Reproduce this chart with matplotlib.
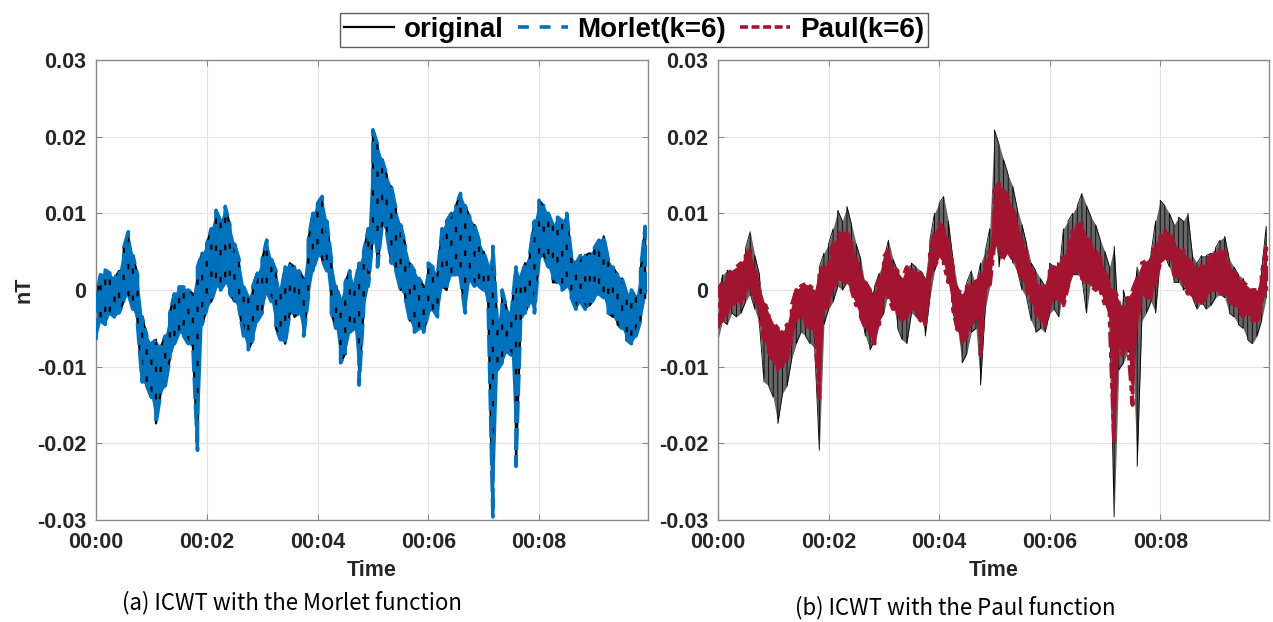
"""Reconstructed geomagnetic signal vs. ICWT reconstructions (Morlet / Paul)."""
import numpy as np
import matplotlib

matplotlib.use("Agg")
import matplotlib.pyplot as plt
from matplotlib.ticker import FuncFormatter

# sample times in seconds (every 5 s over ~10 minutes)
t_sec = np.arange(0, 600, 5)

# upper / lower envelope of the original signal, in 1e-3 nT
orig_hi = [
    -1.0, 2.0, 2.6, 2.2, 1.5, 2.5, 5.5, 7.6, 4.5, 2.0,
    -3.5, -6.0, -7.0, -6.5, -7.5, -6.0, -3.0, -0.5, 0.4, 0.4,
    0.0, -0.5, 3.0, 4.8, 6.0, 8.0, 10.4, 9.0, 10.9, 8.5,
    6.0, 4.0, 0.4, -1.0, 0.5, 2.2, 4.0, 6.5, 4.0, 2.5,
    -0.5, 3.0, 3.5, 3.0, 2.5, 1.5, 6.5, 10.0, 11.3, 12.2,
    9.0, 4.0, 0.5, -1.3, 1.0, 2.5, 0.5, 3.5, 5.0, 8.0,
    20.9, 19.0, 17.0, 15.0, 13.5, 10.5, 8.5, 6.0, 3.5, 2.5,
    1.5, 0.5, 3.5, 3.0, 2.0, 8.0, 9.0, 10.0, 11.0, 12.6,
    11.0, 9.5, 8.5, 6.5, 5.0, 3.0, 5.7, -4.8, 0.0, -2.5,
    -3.0, 3.0, 1.5, 3.5, 4.8, 9.0, 11.7, 11.0, 10.0, 8.5,
    9.5, 9.0, 10.0, 4.5, 3.5, 4.5, 4.5, 4.8, 5.5, 6.5,
    7.0, 4.0, 3.0, 2.0, 1.5, -0.5, 0.0, -1.0, 2.5, 8.3,
]
orig_lo = [
    -6.5, -4.0, -4.5, -3.0, -3.5, -3.0, -1.5, -0.5, -2.5, -4.5,
    -12.0, -12.5, -14.0, -17.4, -13.5, -12.5, -9.0, -7.0, -5.5, -6.0,
    -7.0, -7.5, -20.9, -4.5, -2.5, -1.5, 0.5, 0.0, 1.0, -0.5,
    -1.5, -2.5, -6.0, -7.8, -6.5, -4.0, -3.0, -0.2, -1.5, -5.0,
    -6.5, -7.0, -3.0, -3.5, -3.0, -6.0, -1.0, 2.5, 4.5, 4.0,
    2.5, -3.0, -5.0, -9.5, -8.3, -5.5, -5.0, -12.4, -2.5, 0.5,
    7.0, 3.0, 8.5, 7.5, 3.5, 2.5, 0.0, -1.0, -4.0, -5.5,
    -5.0, -5.5, -3.0, -2.5, -3.5, 0.5, 0.0, 2.0, 2.0, 1.5,
    -3.0, 1.5, 0.5, 0.5, 0.0, -2.5, -29.6, -10.4, -9.5, -8.0,
    -8.5, -23.0, -4.0, -3.0, -1.5, -3.0, 4.0, 4.5, 3.0, 1.0,
    1.0, 0.0, 0.5, -1.0, -2.5, -1.5, -2.5, -2.0, -1.0, -0.5,
    -1.0, -3.0, -3.5, -4.5, -5.0, -6.5, -7.0, -6.0, -4.0, -1.0,
]

# Morlet reconstruction overlaps the original at this resolution
morlet_hi = list(orig_hi)
morlet_lo = list(orig_lo)

# Paul reconstruction (attenuated), in 1e-3 nT
paul_hi = [
    0.0, 1.0, 1.7, 2.6, 3.0, 3.5, 4.5, 5.2, 2.5, 0.5,
    -1.5, -3.0, -4.3, -5.0, -5.5, -4.5, -2.0, 0.0, 0.5, 0.8,
    0.5, 0.0, 2.6, 3.0, 3.5, 6.0, 7.0, 7.8, 7.4, 6.5,
    4.0, 2.5, 1.0, 0.0, -0.5, 1.5, 4.3, 5.2, 3.0, 2.5,
    1.5, 3.0, 2.6, 2.5, 2.2, 1.5, 5.0, 7.5, 8.7, 8.0,
    6.5, 3.0, 0.0, -0.5, 0.5, 1.0, 1.5, 2.0, 3.5, 5.2,
    13.0, 13.9, 13.0, 12.2, 10.5, 8.7, 6.5, 5.0, 3.0, 1.0,
    0.5, 0.8, 2.5, 3.0, 3.5, 4.3, 6.0, 7.8, 8.5, 8.7,
    7.0, 6.0, 5.0, 4.3, 2.5, 0.5, 0.0, -1.3, -2.5, -1.0,
    0.0, 1.5, 3.5, 3.8, 4.3, 6.0, 7.0, 7.8, 7.5, 6.1,
    5.5, 5.2, 4.0, 3.5, 3.0, 3.2, 3.5, 4.8, 5.0, 5.2,
    5.0, 3.0, 2.5, 1.7, 1.0, 0.5, 0.0, 0.0, 2.0, 5.5,
]
paul_lo = [
    -5.0, -4.0, -3.0, -2.0, -1.5, -1.8, -0.5, 0.5, -1.5, -3.5,
    -6.5, -8.0, -9.5, -10.4, -10.0, -9.0, -6.5, -4.0, -3.5, -4.5,
    -5.0, -5.5, -14.1, -2.5, -2.0, 0.0, 1.5, 1.0, 1.0, 0.0,
    -2.0, -3.5, -5.0, -6.0, -7.0, -4.5, -0.5, -1.0, -2.5, -3.0,
    -4.0, -3.5, -2.5, -3.0, -4.0, -4.5, 1.0, 3.0, 4.3, 3.5,
    1.0, -2.5, -5.2, -7.0, -6.0, -4.5, -3.5, -8.5, 0.0, 0.5,
    6.0, 5.2, 3.9, 5.0, 4.0, 3.0, 1.5, 0.0, -1.5, -3.0,
    -4.0, -4.8, -2.5, -1.0, -1.5, -2.0, 0.5, 2.0, 2.5, 1.5,
    1.0, 0.5, 0.0, 0.0, -2.0, -3.5, -20.0, -7.4, -8.7, -7.0,
    -15.0, -4.0, -0.5, -1.0, -1.0, 1.0, 3.5, 4.0, 4.3, 2.0,
    1.5, 1.0, -0.5, -1.0, -1.5, -1.7, -1.0, 0.0, 0.0, -0.5,
    -0.5, -1.5, -2.0, -2.5, -3.5, -3.0, -4.0, -4.3, -2.0, 0.0,
]

y_ticks = [-0.03, -0.02, -0.01, 0, 0.01, 0.02, 0.03]
y_labels = ["-0.03", "-0.02", "-0.01", "0", "0.01", "0.02", "0.03"]
x_ticks = [0, 120, 240, 360, 480]

BLUE = "#0072BD"
RED = "#A2142F"

plt.rcParams["font.family"] = ["Liberation Sans", "DejaVu Sans"]


def band_path(t, hi, lo):
    # vertical strokes between the envelopes, alternating direction
    hi = np.asarray(hi) * 1e-3
    lo = np.asarray(lo) * 1e-3
    x = np.repeat(t, 2)
    pairs = np.column_stack([lo, hi])
    pairs[1::2] = pairs[1::2, ::-1]
    return x, pairs.ravel()


def band_fill(ax, t, hi, lo, **kw):
    ax.fill_between(t, np.asarray(lo) * 1e-3, np.asarray(hi) * 1e-3, lw=0, **kw)


def style_axes(ax):
    ax.set_xlim(0, 598)
    ax.set_ylim(-0.03, 0.03)
    ax.set_yticks(y_ticks)
    ax.set_yticklabels(y_labels)
    ax.set_xticks(x_ticks)
    # hh:mm labels
    ax.xaxis.set_major_formatter(
        FuncFormatter(lambda v, _: f"{int(v // 3600):02d}:{int(v // 60) % 60:02d}"))
    ax.grid(True, color="#e3e3e3", lw=0.8)
    ax.set_axisbelow(True)
    ax.tick_params(direction="in", length=4, width=0.7, colors="#808080",
                   labelcolor="#262626", labelsize=15.5, top=True, right=True)
    ax.tick_params(axis="x", pad=9)
    ax.tick_params(axis="y", pad=7)
    for lab in ax.get_xticklabels() + ax.get_yticklabels():
        lab.set_fontweight("bold")
    for s in ax.spines.values():
        s.set_color("#8a8a8a")
        s.set_linewidth(1.0)
    ax.set_xlabel("Time", fontsize=15.5, fontweight="bold", color="#262626", labelpad=5)


fig = plt.figure(figsize=(12.73, 6.22), dpi=100)
ax1 = fig.add_axes([0.0754, 0.164, 0.4336, 0.7395])
ax2 = fig.add_axes([0.564, 0.164, 0.4328, 0.7395])

# (a) original under the Morlet reconstruction
band_fill(ax1, t_sec, morlet_hi, morlet_lo, color=BLUE, zorder=1.5)
x, y = band_path(t_sec, orig_hi, orig_lo)
h_orig, = ax1.plot(x, y, color="black", lw=1.6, zorder=2, label="original")
x, y = band_path(t_sec, morlet_hi, morlet_lo)
h_mor, = ax1.plot(x, y, color=BLUE, lw=2.6, ls=(0, (6, 1.5)), zorder=3,
                  label="Morlet(k=6)")

# (b) original under the Paul reconstruction
band_fill(ax2, t_sec, orig_hi, orig_lo, color="#333333", alpha=0.75, zorder=1.5)
x, y = band_path(t_sec, orig_hi, orig_lo)
ax2.plot(x, y, color="black", lw=0.6, zorder=2)
band_fill(ax2, t_sec, paul_hi, paul_lo, color=RED, zorder=2.5)
x, y = band_path(t_sec, paul_hi, paul_lo)
h_paul, = ax2.plot(x, y, color=RED, lw=2.8, ls=(0, (4, 1.2, 1.5, 1.2)), zorder=3,
                   label="Paul(k=6)")

style_axes(ax1)
style_axes(ax2)
ax1.set_ylabel("nT", fontsize=15.5, fontweight="bold", color="#262626", labelpad=2)

leg = fig.legend(
    [h_orig,
     plt.Line2D([], [], color=BLUE, lw=2.6, ls=(0, (3, 3))),
     plt.Line2D([], [], color=RED, lw=2.6, ls=(0, (2.2, 1)))],
    ["original", "Morlet(k=6)", "Paul(k=6)"],
    loc="center", bbox_to_anchor=(634 / 1273, 1 - 30 / 622), ncol=3,
    prop={"weight": "bold", "size": 20}, frameon=True, fancybox=False,
    handlelength=1.8, handletextpad=0.35, columnspacing=0.5,
    borderpad=0.14, borderaxespad=0)
leg.get_frame().set_edgecolor("#333333")
leg.get_frame().set_linewidth(1.0)

cap_font = ["Noto Sans CJK JP", "DejaVu Sans"]
fig.text(292 / 1273, 1 - 603 / 622, "(a) ICWT with the Morlet function",
         ha="center", va="center", fontsize=16, family=cap_font)
fig.text(955 / 1273, 1 - 608 / 622, "(b) ICWT with the Paul function",
         ha="center", va="center", fontsize=16, family=cap_font)

fig.savefig("out.png", dpi=100)
